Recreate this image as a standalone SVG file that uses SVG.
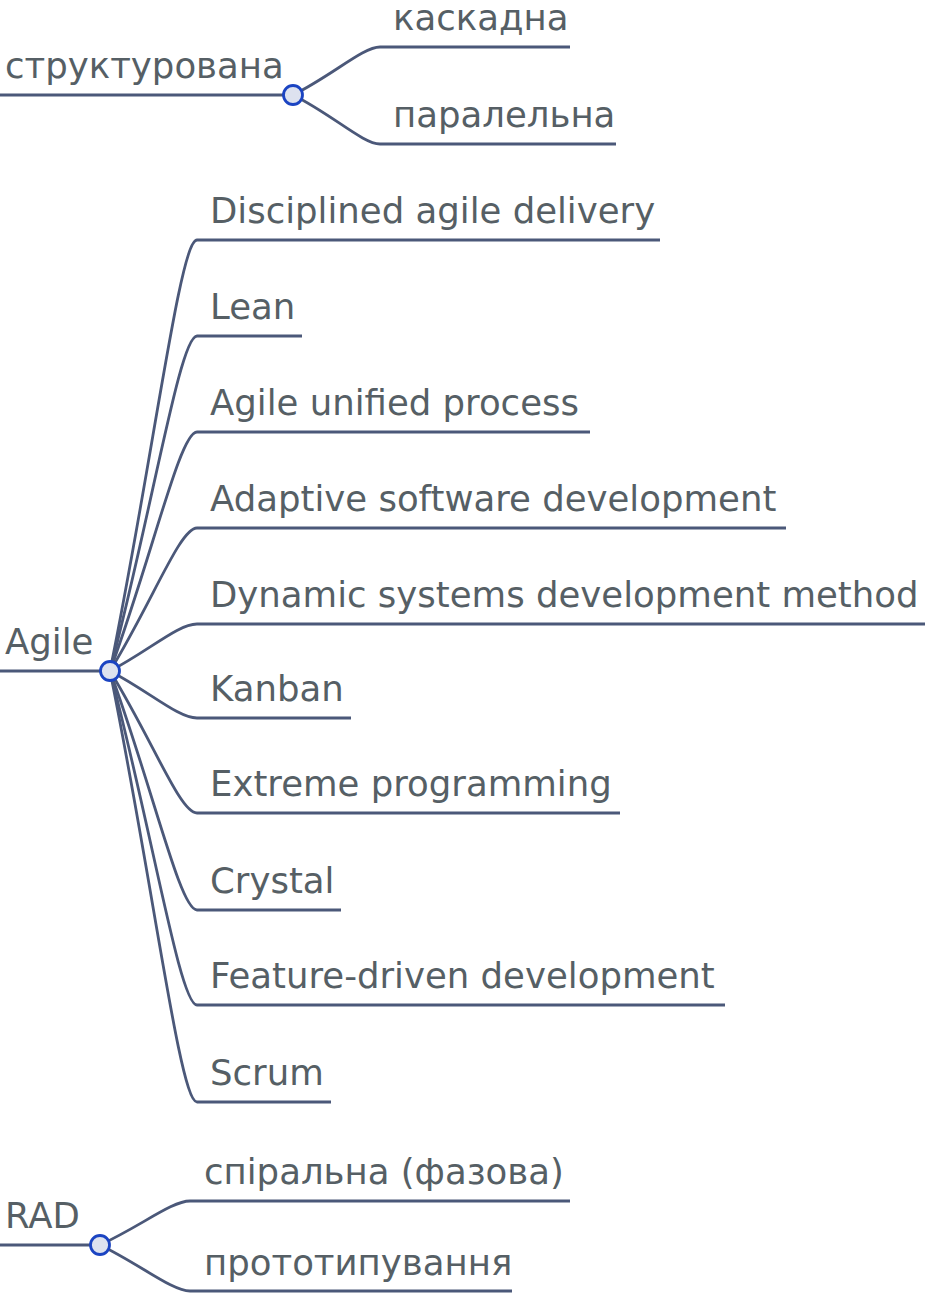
<svg xmlns="http://www.w3.org/2000/svg" width="925" height="1293" viewBox="0 0 925 1293">
<style>
.t{font-family:"DejaVu Sans",sans-serif;font-size:35.5px;fill:#565f65}
.l{fill:none;stroke:#4b5879;stroke-width:2.8;stroke-linecap:butt}
.c{fill:#dde2ef;stroke:#1b44c2;stroke-width:2.8}
</style>
<rect width="925" height="1293" fill="#ffffff"/>
<g id="connectors">
<path class="l" d="M0,95 L293,95"/>
<path class="l" d="M293,95 C333,75 363,47 380,47 L570,47"/>
<path class="l" d="M293,95 C333,115 363,144 380,144 L616,144"/>
<path class="l" d="M0,671 L110,671"/>
<path class="l" d="M110,671 C153.5,455.5 180,240 197,240 L660,240"/>
<path class="l" d="M110,671 C153.5,503.5 180,336 197,336 L302,336"/>
<path class="l" d="M110,671 C153.5,551.5 180,432 197,432 L590,432"/>
<path class="l" d="M110,671 C153.5,599.5 180,528 197,528 L786,528"/>
<path class="l" d="M110,671 C150,650 178,624 197,624 L925,624"/>
<path class="l" d="M110,671 C150,692 178,718 197,718 L351,718"/>
<path class="l" d="M110,671 C153.5,742 180,813 197,813 L620,813"/>
<path class="l" d="M110,671 C153.5,790.5 180,910 197,910 L341,910"/>
<path class="l" d="M110,671 C153.5,838 180,1005 197,1005 L725,1005"/>
<path class="l" d="M110,671 C153.5,886.5 180,1102 197,1102 L331,1102"/>
<path class="l" d="M0,1245 L100,1245"/>
<path class="l" d="M100,1245 C141,1226 172,1201 190,1201 L570,1201"/>
<path class="l" d="M100,1245 C141,1265 172,1291 190,1291 L512,1291"/>
</g>
<g id="n-structured"><text class="t" x="5" y="78">структурована</text><circle class="c" cx="293" cy="95" r="9.5"/></g>
<g id="n-cascade"><text class="t" x="393" y="30">каскадна</text></g>
<g id="n-parallel"><text class="t" x="393" y="127">паралельна</text></g>
<g id="n-agile"><text class="t" x="5" y="654">Agile</text><circle class="c" cx="110" cy="671" r="9.5"/></g>
<g id="n-dad"><text class="t" x="210" y="223">Disciplined agile delivery</text></g>
<g id="n-lean"><text class="t" x="210" y="319">Lean</text></g>
<g id="n-aup"><text class="t" x="210" y="415">Agile unified process</text></g>
<g id="n-asd"><text class="t" x="210" y="511">Adaptive software development</text></g>
<g id="n-dsdm"><text class="t" x="210" y="607">Dynamic systems development method</text></g>
<g id="n-kanban"><text class="t" x="210" y="701">Kanban</text></g>
<g id="n-xp"><text class="t" x="210" y="796">Extreme programming</text></g>
<g id="n-crystal"><text class="t" x="210" y="893">Crystal</text></g>
<g id="n-fdd"><text class="t" x="210" y="988">Feature-driven development</text></g>
<g id="n-scrum"><text class="t" x="210" y="1085">Scrum</text></g>
<g id="n-rad"><text class="t" x="5" y="1228">RAD</text><circle class="c" cx="100" cy="1245" r="9.5"/></g>
<g id="n-spiral"><text class="t" x="204" y="1184">спіральна (фазова)</text></g>
<g id="n-proto"><text class="t" x="204" y="1275">прототипування</text></g>
</svg>
